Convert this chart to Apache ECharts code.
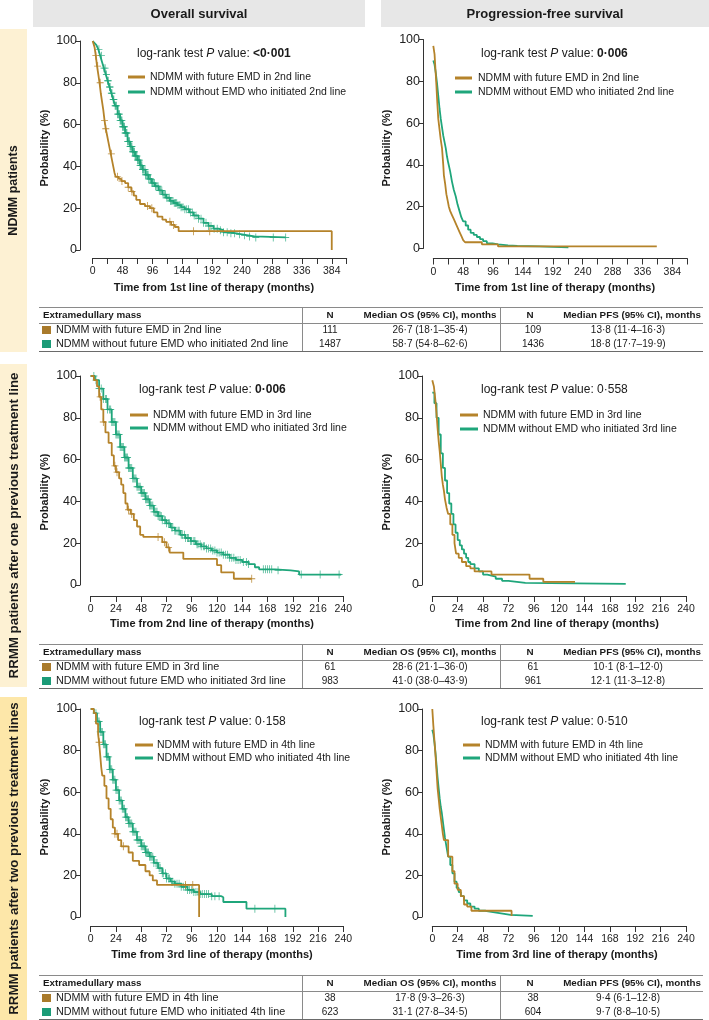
<!DOCTYPE html>
<html><head><meta charset="utf-8">
<script src="https://cdn.jsdelivr.net/npm/echarts@6/dist/echarts.min.js"></script>
<style>html,body{margin:0;padding:0;background:#fff}#c{width:709px;height:1020px}</style>
</head><body><div id="c"></div>
<script>
// ---------------- DATA ----------------
const colHeaders = ['Overall survival', 'Progression-free survival'];
const rowLabels = ['NDMM patients', 'RRMM patients after one previous treatment line', 'RRMM patients after two previous treatment lines'];
const xTitles = ['Time from 1st line of therapy (months)', 'Time from 2nd line of therapy (months)', 'Time from 3rd line of therapy (months)'];
const yTitle = 'Probability (%)';
const legendEMD = ['NDMM with future EMD in 2nd line', 'NDMM with future EMD in 3rd line', 'NDMM with future EMD in 4th line'];
const legendNoEMD = ['NDMM without EMD who initiated 2nd line', 'NDMM without EMD who initiated 3rd line', 'NDMM without EMD who initiated 4th line'];
// [value, bold?] per panel: OS row1, PFS row1, OS row2, PFS row2, OS row3, PFS row3
const pValues = [['<0·001', true], ['0·006', true], ['0·006', true], ['0·558', false], ['0·158', false], ['0·510', false]];

// Kaplan-Meier step points [months, %]
const os2_emd = [[0,100],[3,97],[5,93],[7,88],[9,84],[11,80],[13,75],[15,71],[17,67],[19,62],[21,58],[23,55],[25,52],[27,49],[29,46],[31,43],[33,40],[35,37],[37,35],[42,34],[46,33],[52,32],[57,30],[62,28],[66,26],[70,24],[76,22],[84,21],[92,20],[98,18],[104,16],[112,14.5],[118,13.5],[126,12],[132,11],[138,9],[384,9],[384,0]];
const os2_noemd = [[0,100],[3,99],[6,98],[9,96],[12,93],[15,90],[18,87],[21,84],[24,81],[27,78],[30,75],[33,72],[36,69],[40,65],[44,62],[48,59],[52,56],[56,52],[60,49.5],[64,47],[68,45],[72,43],[76,40.5],[80,38.5],[85,36],[90,34],[95,32],[100,30.5],[106,28.5],[112,26.5],[118,25],[124,23.5],[130,22.5],[136,21.5],[142,20.5],[148,19.5],[155,18],[162,16.5],[170,15],[178,13],[186,11.5],[194,10.2],[202,9.5],[210,8.5],[220,8],[230,7.5],[240,7],[250,6.5],[260,6],[310,6]];
const os2_emd_cens = [5,8,12,19,21,30,40,47,57,63,88,95,124,130,162,188];
const os2_noemd_cens = [10,14,18,20,22,24,25,27,28,30,31,33,34,36,37,38,40,41,42,43,44,45,46,47,48,49,50,51,52,53,54,55,56,57,58,59,60,61,62,63,64,65,66,67,68,69,70,71,72,73,74,75,76,77,78,79,80,81,82,84,85,86,88,89,90,92,93,95,96,98,99,101,103,105,107,109,111,113,115,117,119,121,123,125,127,129,131,133,135,137,140,142,145,148,151,154,157,160,163,166,170,174,178,182,186,190,195,200,205,210,216,222,228,236,244,252,262,290,310];

const pfs2_emd = [[0,97],[2,93],[3,88],[4,83],[5,78],[6,72],[7,67],[8,62],[10,57],[12,52],[14,48],[16,40],[17,35],[19,31],[21,26],[23,23],[25,20],[27,18],[30,16],[33,14],[36,12],[39,10],[42,8],[45,6],[48,4],[51,3],[78,2],[104,1],[359,1]];
const pfs2_noemd = [[0,90],[2,88],[4,84],[6,79],[8,73],[10,67],[12,62],[14,58],[16,54],[18,51],[20,48],[22,44],[24,41],[27,37],[30,32],[33,28],[36,25],[39,21],[42,18],[45,15],[48,13],[52,11],[56,9],[60,7.5],[65,6.5],[70,5.5],[75,4.5],[80,3.5],[86,2.5],[95,2],[104,1.5],[120,1.2],[135,1],[170,0.5],[217,0.5]];

const os3_emd = [[0,100],[3,98],[6,95],[8,90],[10,84],[12,78],[14,73],[17,68],[20,62],[22,57],[24,54],[27,51],[29,48],[31,44],[33,39],[35,36],[38,34],[41,31],[44,28],[47,24],[50,23],[68,20.5],[72,18],[75,15.5],[88,12.5],[120,9.5],[124,6],[136,3],[153,3]];
const os3_noemd = [[0,100],[4,98],[8,94],[12,89],[16,84],[20,78],[24,72],[28,66],[32,61],[36,56],[40,51],[44,47],[48,44],[52,41],[56,38],[60,35],[64,33],[68,31],[72,29.5],[76,27.5],[80,26],[85,24],[90,22.5],[95,21],[100,19.5],[105,18.5],[110,17.5],[115,16.5],[120,15.5],[126,14.5],[132,13],[138,12],[144,11],[150,10],[156,8.5],[160,7.5],[175,7],[190,6.5],[198,5],[238,5]];
const os3_emd_cens = [9,12,23,25,36,39,64,70,74,153];
const os3_noemd_cens = [3,5,8,10,12,14,15,16,18,19,20,21,22,23,24,25,26,27,28,29,30,31,32,33,34,35,36,37,38,39,40,41,42,43,44,45,46,47,48,49,50,51,52,53,54,55,56,57,58,59,60,61,62,63,64,65,66,67,68,70,71,72,74,75,77,78,80,81,83,84,86,87,89,90,92,93,95,96,98,99,101,102,104,105,107,108,110,112,114,116,118,120,122,124,126,128,130,132,134,136,138,140,142,145,148,150,164,166,168,170,172,178,200,218,236];

const pfs3_emd = [[0,98],[1.5,95],[3,88],[4,82],[5,75],[6,69],[7,64],[8,58],[9,52],[10,48],[11,45],[12,41],[13.5,37],[15,34],[17,29],[19,24],[21,20],[22.5,15],[25,13],[28,11],[32,9],[36,8],[40,6.5],[56,5],[92,3],[105,1.5],[135,1.5]];
const pfs3_noemd = [[0,92],[2,87],[4,80],[6,72],[8,63],[10,56],[12,50],[14,44],[16,39],[18,34],[20,29],[22,25],[24,21.5],[26,19],[28,17],[30,15],[32,13],[34,11],[36,10],[40,8],[44,6.5],[48,5],[52,4.5],[56,4],[60,3],[66,2],[72,1.5],[80,1],[88,0.5],[183,0.5]];

const os4_emd = [[0,100],[3,98],[5,93],[7,88],[8,84],[9,78],[10,72],[11,68],[13,63],[15,57],[17,52],[19,47],[21,43],[23,40],[26,37],[29,34],[36,31],[40,27],[46,25],[52,22],[56,20],[59,17.6],[63,15.4],[103,15.4],[103,0]];
const os4_noemd = [[0,100],[3,98],[6,94],[9,89],[12,83],[15,77],[18,71],[21,66],[24,61],[27,56],[30,52],[33,48],[36,45],[40,41],[44,37],[48,34],[52,31],[56,29],[60,26],[64,23.5],[68,21],[72,18.5],[76,17],[80,16],[86,14.5],[92,13],[98,12],[104,11],[115,10],[124,9.5],[126,7.2],[146,7.2],[148,4],[185,4],[185,0]];
const os4_emd_cens = [8,23,25,31,90,97];
const os4_noemd_cens = [5,7,8,9,10,11,12,13,14,15,16,17,18,19,20,21,22,23,24,25,26,27,28,29,30,31,32,33,34,35,36,37,38,39,40,41,42,43,44,45,46,47,48,49,50,51,52,53,54,55,56,57,58,59,60,62,63,65,66,68,69,71,72,74,75,77,78,80,82,84,86,88,90,92,94,96,98,100,102,104,106,108,110,112,115,118,122,156,175];

const pfs4_emd = [[0,100],[1,92],[2,85],[3,78],[4,70],[5,62],[6,57],[7,52],[8,48],[9,44],[10,40],[11,37],[15,29],[19,22],[21,16],[24,13],[27,10],[30,6],[33,5],[37,3],[75,3],[75,0.5]];
const pfs4_noemd = [[0,90],[1,88],[2,84],[3,79],[4,73],[5,67],[6,62],[7,57],[8,53],[9,50],[10,46],[11,42],[12,38],[13,35],[14,32],[15,29],[17,25],[19,21],[21,17],[23,14],[25,12],[27,10],[30,8],[33,6.5],[36,5],[40,4],[44,3],[50,2.5],[56,2],[62,1.5],[68,1],[74,0.5],[95,0.3]];

const tableHeader = ['Extramedullary mass', 'N', 'Median OS (95% CI), months', 'N', 'Median PFS (95% CI), months'];
const table2nd = [['NDMM with future EMD in 2nd line', '111', '26·7 (18·1–35·4)', '109', '13·8 (11·4–16·3)'],
                  ['NDMM without future EMD who initiated 2nd line', '1487', '58·7 (54·8–62·6)', '1436', '18·8 (17·7–19·9)']];
const table3rd = [['NDMM with future EMD in 3rd line', '61', '28·6 (21·1–36·0)', '61', '10·1 (8·1–12·0)'],
                  ['NDMM without future EMD who initiated 3rd line', '983', '41·0 (38·0–43·9)', '961', '12·1 (11·3–12·8)']];
const table4th = [['NDMM with future EMD in 4th line', '38', '17·8 (9·3–26·3)', '38', '9·4 (6·1–12·8)'],
                  ['NDMM without future EMD who initiated 4th line', '623', '31·1 (27·8–34·5)', '604', '9·7 (8·8–10·5)']];

// ---------------- STYLE / LAYOUT ----------------
const BROWN = '#b5832a', GREEN = '#1fa67b';
const SW_BROWN = '#a97a2b', SW_GREEN = '#1b9b77';
const F = '"Liberation Sans", Arial, sans-serif';
const PLUS = 'path://M4,0H5V4H9V5H5V9H4V5H0V4H4Z';
const panels = [
  {l:92.7, t:41, w:254, h:209, xmax:408, lab:48, xo:8, yo:12.7, emd:os2_emd, no:os2_noemd, ec:os2_emd_cens, nc:os2_noemd_cens},
  {l:433.3, t:39.5, w:254, h:209, xmax:408, lab:48, xo:10, yo:10.3, emd:pfs2_emd, no:pfs2_noemd, ec:[], nc:[]},
  {l:90.7, t:376, w:252.6, h:209, xmax:240, lab:24, xo:11, yo:10.7, emd:os3_emd, no:os3_noemd, ec:os3_emd_cens, nc:os3_noemd_cens},
  {l:432.3, t:376, w:253.7, h:209, xmax:240, lab:24, xo:11, yo:10.3, emd:pfs3_emd, no:pfs3_noemd, ec:[], nc:[]},
  {l:90.7, t:709, w:252.6, h:208, xmax:240, lab:24, xo:9, yo:10.7, emd:os4_emd, no:os4_noemd, ec:os4_emd_cens, nc:os4_noemd_cens},
  {l:432.3, t:709, w:253.7, h:208, xmax:240, lab:24, xo:9, yo:10.3, emd:pfs4_emd, no:pfs4_noemd, ec:[], nc:[]}
];

function stepAt(data, t) {
  let y = data[0][1];
  for (const p of data) { if (p[0] <= t) y = p[1]; else break; }
  return y;
}

const grid = [], xAxis = [], yAxis = [], series = [];
panels.forEach((p, i) => {
  grid.push({left:p.l, top:p.t, width:p.w, height:p.h, containLabel:false});
  xAxis.push({gridIndex:i, type:'value', min:0, max:p.xmax, interval:24, offset:p.xo,
    axisLine:{show:true, onZero:false, lineStyle:{color:'#333', width:1}},
    axisTick:{show:true, length:6, lineStyle:{color:'#333', width:1}},
    axisLabel:{fontFamily:F, fontSize:10.5, color:'#222', margin:8,
      formatter: v => (v % p.lab === 0 && v <= (p.xmax === 408 ? 384 : 240)) ? String(v) : ''},
    splitLine:{show:false}});
  yAxis.push({gridIndex:i, type:'value', min:0, max:100, interval:20, offset:p.yo,
    axisLine:{show:true, onZero:false, lineStyle:{color:'#333', width:1}},
    axisTick:{show:true, length:4, lineStyle:{color:'#333', width:1}},
    axisLabel:{fontFamily:F, fontSize:12.5, color:'#222', margin:3},
    splitLine:{show:false}});
  series.push({type:'line', xAxisIndex:i, yAxisIndex:i, data:p.no, step:'end', symbol:'none', silent:true,
    lineStyle:{color:GREEN, width:1.8}, z:2});
  if (p.nc.length) series.push({type:'scatter', xAxisIndex:i, yAxisIndex:i, silent:true,
    data:p.nc.map(t => [t, stepAt(p.no, t)]), symbol:PLUS, symbolSize:[7, 8], itemStyle:{color:GREEN, opacity:0.8}, z:2});
  series.push({type:'line', xAxisIndex:i, yAxisIndex:i, data:p.emd, step:'end', symbol:'none', silent:true,
    lineStyle:{color:BROWN, width:1.8}, z:3});
  if (p.ec.length) series.push({type:'scatter', xAxisIndex:i, yAxisIndex:i, silent:true,
    data:p.ec.map(t => [t, stepAt(p.emd, t)]), symbol:PLUS, symbolSize:[7, 8], itemStyle:{color:BROWN, opacity:0.9}, z:3});
});

// ---------------- GRAPHICS ----------------
const G = [];
function txt(x, y, text, font, align, vAlign, fill, rot) {
  const el = {type:'text', x:x, y:y, silent:true,
    style:{text:text, font:font, fill:fill || '#1a1a1a', textAlign:align || 'left', textVerticalAlign:vAlign || 'middle',
           align:align || 'left', verticalAlign:vAlign || 'middle'}};
  if (rot) el.rotation = rot;
  G.push(el);
}
function rect(x, y, w, h, fill) { G.push({type:'rect', silent:true, shape:{x:x, y:y, width:w, height:h}, style:{fill:fill}}); }
function line(x1, y1, x2, y2, stroke, lw) { G.push({type:'line', silent:true, shape:{x1:x1, y1:y1, x2:x2, y2:y2}, style:{stroke:stroke, lineWidth:lw || 1}}); }

// column headers
rect(33, 0, 332, 27, '#e7e7e7');
rect(381, 0, 328, 27, '#e7e7e7');
txt(199, 14, colHeaders[0], 'bold 13px ' + F, 'center');
txt(545, 14, colHeaders[1], 'bold 13px ' + F, 'center');

// row label boxes
const boxes = [[29, 352, '#fdf1d3', 12.5], [364, 687, '#fdf1d3', 13.3], [697, 1020, '#fde7a9', 13.3]];
boxes.forEach((b, i) => {
  rect(0, b[0], 27, b[1] - b[0], b[2]);
  txt(14, (b[0] + b[1]) / 2, rowLabels[i], 'bold ' + b[3] + 'px ' + F, 'center', 'middle', '#1a1a1a', Math.PI / 2);
});

// log-rank texts
const lrPos = [[137, 54], [481, 54], [139, 390], [481, 390], [139, 722], [481, 722]];
lrPos.forEach((pp, i) => {
  const pv = pValues[i];
  G.push({type:'text', x:pp[0], y:pp[1], silent:true,
    style:{text:'{a|log-rank test }{i|P}{a| value: }{' + (pv[1] ? 'b' : 'a') + '|' + pv[0] + '}',
      textVerticalAlign:'middle', verticalAlign:'middle',
      rich:{a:{font:'12px ' + F, fill:'#1a1a1a'}, i:{font:'italic 12px ' + F, fill:'#1a1a1a'}, b:{font:'bold 12px ' + F, fill:'#1a1a1a'}}}});
});

// legends
const lgPos = [[128, 145, 150, 77, 92], [455, 472, 478, 78, 92], [130, 148, 153, 415, 428], [460, 478, 483, 415, 429], [135, 153, 157, 745, 758], [463, 480, 485, 745, 758]];
lgPos.forEach((l, i) => {
  const r = Math.floor(i / 2);
  line(l[0], l[3], l[1], l[3], BROWN, 3);
  line(l[0], l[4], l[1], l[4], GREEN, 3);
  txt(l[2], l[3], legendEMD[r], '10.5px ' + F, 'left');
  txt(l[2], l[4], legendNoEMD[r], '10.5px ' + F, 'left');
});

// axis titles
const yTitlePos = [[45, 148], [387, 148], [45, 492], [387, 492], [45, 817], [387, 817]];
yTitlePos.forEach(p => txt(p[0], p[1], yTitle, 'bold 11px ' + F, 'center', 'middle', '#1a1a1a', Math.PI / 2));
const xTitlePos = [[214, 288, 555, 288], [212, 624, 557, 624], [212, 955, 557, 955]];
xTitlePos.forEach((p, r) => {
  txt(p[0], p[1], xTitles[r], 'bold 11px ' + F, 'center');
  txt(p[2], p[3], xTitles[r], 'bold 11px ' + F, 'center');
});

// tables
function table(y0, rows) {
  line(39, y0 + 0.5, 703, y0 + 0.5, '#8a8a8a', 1);
  line(39, y0 + 16.5, 703, y0 + 16.5, '#8a8a8a', 1);
  line(39, y0 + 44.5, 703, y0 + 44.5, '#6a6a6a', 1);
  line(302.5, y0, 302.5, y0 + 44, '#8a8a8a', 1);
  line(500.5, y0, 500.5, y0 + 44, '#8a8a8a', 1);
  const hf = 'bold 9.8px ' + F;
  txt(43, y0 + 8.5, tableHeader[0], hf, 'left');
  txt(330, y0 + 8.5, tableHeader[1], hf, 'center');
  txt(430, y0 + 8.5, tableHeader[2], hf, 'center');
  txt(530, y0 + 8.5, tableHeader[3], hf, 'center');
  txt(632, y0 + 8.5, tableHeader[4], hf, 'center');
  const rf = '10.8px ' + F, vf = '10px ' + F;
  rows.forEach((r, k) => {
    const y = y0 + 23 + k * 14;
    rect(42, y - 4, 9, 8, k === 0 ? SW_BROWN : SW_GREEN);
    txt(56, y, r[0], rf, 'left');
    txt(330, y, r[1], vf, 'center');
    txt(430, y, r[2], vf, 'center');
    txt(533, y, r[3], vf, 'center');
    txt(628, y, r[4], vf, 'center');
  });
}
table(307, table2nd);
table(644, table3rd);
table(975, table4th);

const chart = echarts.init(document.getElementById('c'), null, {renderer:'canvas'});
chart.setOption({animation:false, backgroundColor:'#ffffff', grid:grid, xAxis:xAxis, yAxis:yAxis, series:series, graphic:{elements:G}});
</script></body></html>
